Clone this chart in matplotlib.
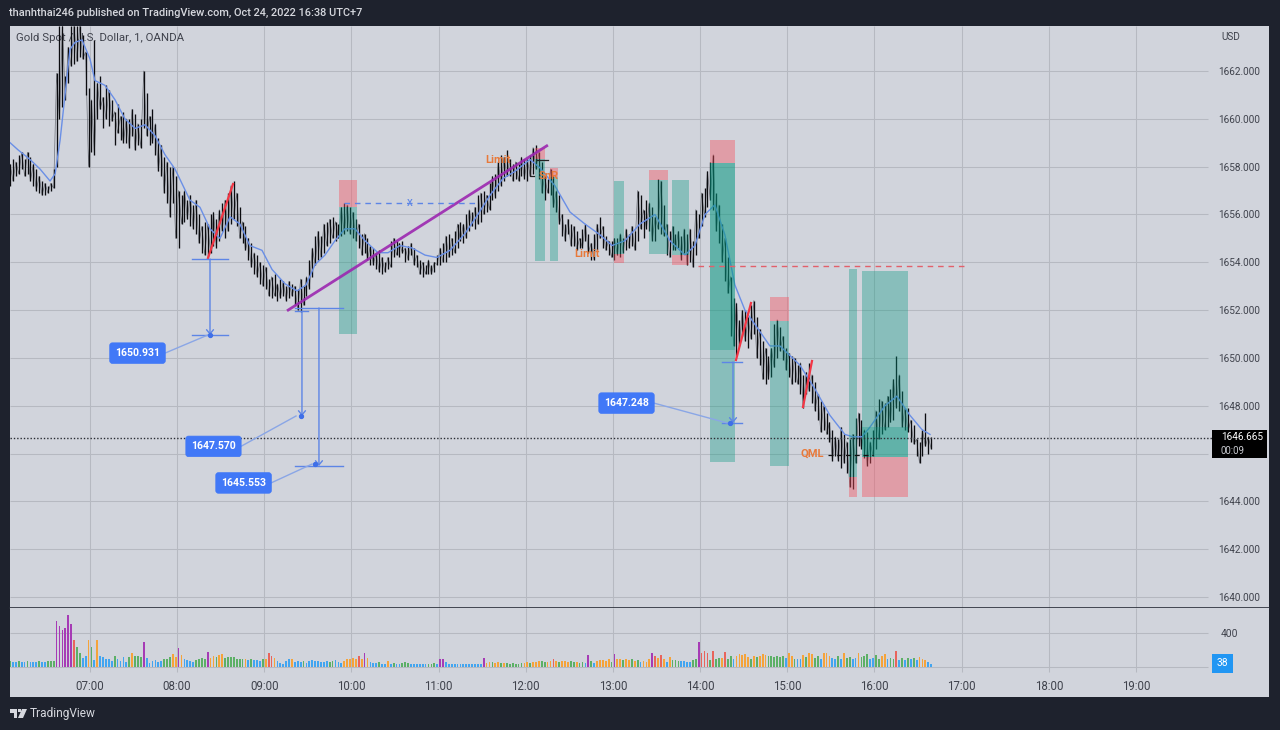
import matplotlib
matplotlib.use("Agg")
import numpy as np
import matplotlib.pyplot as plt
from matplotlib.patches import Rectangle, Polygon

plt.rcParams['font.family'] = ['Roboto', 'DejaVu Sans']

W, H = 1280, 730

# one bar every 2 minutes, first bar at 06:05. prices are 1600 + value
first_minute = 5
bar_step = 2

highs = [
    58.1, 58.3, 58.2, 58.5, 58.6, 58.3, 58.6, 58.4, 58.1, 57.9,
    57.6, 57.4, 57.3, 57.2, 57.3, 57.9, 61.9, 63.9, 63.9, 61.8,
    63.0, 63.9, 63.9, 63.9, 63.9, 63.5, 62.8, 61.3, 60.8, 63.3,
    61.5, 61.8, 60.9, 61.4, 61.2, 60.8, 60.3, 60.6, 60.1, 60.3,
    60.0, 60.0, 60.4, 60.2, 59.8, 60.0, 62.0, 61.1, 60.1, 60.4,
    59.8, 59.2, 58.9, 58.4, 58.2, 58.0, 58.0, 57.6, 57.0, 56.8,
    57.0, 56.6, 56.8, 56.4, 56.6, 56.0, 55.5, 55.7, 55.6, 56.0,
    56.1, 55.8, 56.2, 56.5, 56.6, 56.9, 57.2, 57.4, 56.9, 56.3,
    55.7, 55.5, 55.0, 54.8, 54.4, 54.3, 54.0, 53.9, 53.8, 53.3,
    53.4, 53.5, 53.1, 53.3, 53.2, 53.0, 53.2, 53.1, 53.0, 52.9,
    53.3, 53.0, 53.4, 54.1, 54.6, 55.1, 55.3, 55.1, 55.6, 55.7,
    55.8, 55.9, 55.7, 55.6, 56.3, 56.5, 56.4, 56.3, 56.1, 55.8,
    55.6, 55.2, 55.2, 55.0, 54.7, 54.6, 54.4, 54.5, 54.2, 54.0,
    54.2, 54.9, 55.0, 54.9, 54.8, 54.9, 54.6, 54.7, 54.8, 54.6,
    54.3, 54.1, 54.0, 53.9, 54.1, 53.9, 54.0, 54.3, 54.6, 54.8,
    55.1, 55.2, 55.0, 55.3, 55.6, 55.7, 55.6, 56.0, 56.2, 56.1,
    56.3, 56.8, 56.9, 57.0, 56.8, 57.3, 57.6, 57.7, 58.2, 58.5,
    58.4, 58.7, 58.3, 58.1, 58.2, 58.1, 58.4, 58.3, 58.3, 58.5,
    58.8, 58.9, 58.6, 58.2, 57.6, 57.5, 57.9, 57.6, 57.0, 56.8,
    56.0, 55.6, 55.8, 55.6, 55.5, 55.3, 55.0, 55.4, 55.6, 55.2,
    54.8, 55.2, 55.6, 55.9, 55.5, 55.1, 54.9, 54.9, 55.0, 55.0,
    55.2, 55.0, 55.4, 55.2, 55.5, 55.3, 57.0, 56.8, 56.2, 56.6,
    56.5, 56.3, 55.9, 57.5, 57.4, 56.4, 55.6, 55.3, 55.5, 55.2,
    55.3, 55.1, 55.4, 55.2, 55.4, 54.9, 56.2, 56.0, 56.9, 57.1,
    57.8, 58.2, 58.5, 56.9, 56.4, 55.6, 55.0, 54.2, 53.4, 52.5,
    52.3, 51.6, 52.0, 52.0, 51.7, 52.2, 52.4, 51.7, 51.2, 50.7,
    50.4, 50.1, 50.4, 51.4, 51.6, 51.3, 50.9, 50.4, 50.2, 50.1,
    50.0, 49.7, 49.8, 49.3, 49.4, 49.8, 49.3, 49.0, 48.5, 48.2,
    48.0, 47.7, 47.3, 47.0, 46.7, 46.6, 47.1, 46.8, 46.5, 46.6,
    46.8, 47.5, 47.7, 47.4, 47.0, 46.9, 46.5, 47.0, 47.8, 48.3,
    48.2, 48.1, 48.4, 48.7, 49.1, 50.1, 49.3, 48.6, 47.9, 47.9,
    47.4, 47.2, 46.6, 46.5, 47.0, 47.7, 46.7, 46.7,
]
lows = [
    57.2, 57.4, 57.6, 57.7, 57.9, 57.6, 57.7, 57.4, 57.2, 57.0,
    56.9, 56.8, 56.8, 56.9, 57.0, 57.1, 58.0, 60.0, 60.5, 60.8,
    61.5, 62.2, 62.3, 62.4, 62.6, 62.5, 61.0, 58.0, 58.6, 58.5,
    60.0, 60.4, 59.6, 60.0, 59.7, 59.9, 58.9, 59.4, 59.1, 59.0,
    59.0, 58.8, 59.3, 58.7, 58.9, 58.8, 59.6, 59.3, 58.9, 59.0,
    58.5, 57.8, 57.6, 56.9, 56.5, 55.9, 56.5, 55.0, 54.6, 55.6,
    55.7, 55.8, 55.5, 55.4, 55.2, 54.8, 54.4, 54.3, 54.2, 54.4,
    54.7, 54.6, 54.9, 55.3, 55.0, 55.3, 55.6, 55.8, 55.5, 55.0,
    54.8, 54.5, 54.1, 53.8, 53.5, 53.4, 53.1, 53.0, 52.9, 52.6,
    52.5, 52.6, 52.4, 52.5, 52.6, 52.4, 52.5, 52.6, 52.2, 52.0,
    51.9, 52.2, 52.6, 52.9, 53.4, 53.9, 54.1, 54.2, 54.4, 54.7,
    54.8, 55.0, 54.9, 55.0, 55.1, 55.2, 55.3, 55.2, 55.0, 54.9,
    54.6, 54.3, 54.4, 54.1, 53.9, 53.9, 53.7, 53.6, 53.5, 53.6,
    53.7, 53.8, 54.2, 54.3, 54.2, 54.4, 54.0, 54.1, 54.3, 53.9,
    53.8, 53.5, 53.4, 53.5, 53.5, 53.5, 53.6, 53.9, 53.9, 54.0,
    54.0, 54.2, 54.3, 54.4, 54.6, 54.9, 54.8, 55.0, 55.3, 55.5,
    55.4, 55.6, 55.7, 56.0, 56.1, 56.2, 56.6, 56.7, 57.0, 57.2,
    57.4, 57.6, 57.6, 57.4, 57.5, 57.4, 57.6, 57.5, 57.4, 57.6,
    57.7, 57.9, 57.5, 56.9, 56.6, 56.9, 56.8, 56.3, 56.1, 55.6,
    55.1, 54.9, 55.2, 54.7, 54.7, 54.5, 54.6, 54.6, 54.9, 54.4,
    54.1, 54.1, 54.5, 55.0, 54.6, 54.5, 54.3, 54.2, 54.1, 54.3,
    54.2, 54.4, 54.5, 54.6, 54.7, 54.5, 54.9, 55.4, 55.0, 55.4,
    55.3, 54.9, 54.9, 55.4, 55.2, 55.1, 54.3, 54.2, 54.5, 54.5,
    54.6, 54.1, 54.4, 53.9, 54.0, 53.8, 54.3, 55.0, 55.5, 55.9,
    56.3, 56.6, 56.2, 55.3, 54.8, 54.0, 53.2, 52.7, 50.9, 50.5,
    50.1, 50.5, 50.9, 50.7, 50.4, 50.8, 51.0, 50.0, 49.7, 49.1,
    48.9, 49.1, 49.2, 49.6, 50.0, 50.3, 49.9, 49.5, 49.2, 48.9,
    49.0, 48.9, 48.5, 47.9, 48.5, 48.6, 48.1, 47.8, 47.4, 46.9,
    47.0, 46.8, 46.5, 45.7, 45.9, 45.7, 45.4, 45.6, 45.2, 44.6,
    44.5, 45.6, 46.3, 46.2, 45.8, 45.5, 45.6, 45.9, 46.2, 46.6,
    46.8, 47.0, 47.1, 47.3, 47.4, 47.9, 47.8, 47.1, 47.0, 46.9,
    46.5, 46.4, 45.9, 45.6, 45.9, 46.3, 46.0, 46.2,
]
volumes = [
    70, 60, 55, 70, 60, 55, 65, 60, 55, 60,
    65, 55, 60, 70, 70, 75, 540, 480, 430, 460,
    610, 510, 320, 230, 170, 110, 130, 320, 230, 80,
    320, 130, 120, 100, 90, 70, 130, 90, 70, 120,
    60, 120, 165, 130, 130, 120, 300, 110, 50, 70,
    80, 60, 70, 100, 90, 120, 150, 120, 220, 140,
    90, 80, 70, 60, 80, 100, 110, 90, 180, 110,
    130, 120, 140, 150, 110, 120, 120, 120, 100, 90,
    90, 100, 80, 90, 80, 80, 70, 90, 100, 170,
    130, 110, 70, 50, 40, 70, 90, 100, 60, 70,
    60, 70, 50, 70, 80, 70, 70, 60, 60, 70,
    60, 70, 80, 60, 50, 70, 90, 90, 110, 100,
    130, 90, 170, 110, 60, 50, 50, 60, 40, 40,
    70, 40, 50, 40, 40, 50, 60, 50, 40, 30,
    40, 30, 30, 30, 40, 40, 50, 40, 90, 90,
    60, 30, 40, 30, 30, 40, 30, 30, 40, 30,
    40, 30, 40, 110, 50, 60, 60, 50, 60, 50,
    50, 50, 40, 50, 40, 40, 50, 50, 60, 50,
    60, 60, 70, 70, 60, 60, 70, 90, 70, 60,
    70, 70, 60, 70, 60, 60, 50, 60, 50, 140,
    70, 50, 70, 80, 80, 70, 90, 60, 150, 90,
    90, 80, 90, 80, 90, 70, 80, 60, 70, 60,
    90, 160, 130, 110, 140, 90, 60, 120, 80, 80,
    70, 70, 70, 60, 60, 80, 90, 290, 170, 190,
    170, 80, 190, 90, 110, 110, 180, 90, 130, 90,
    130, 150, 140, 150, 120, 100, 130, 120, 130, 150,
    140, 130, 130, 120, 130, 120, 130, 110, 160, 130,
    100, 90, 100, 140, 120, 160, 150, 110, 130, 100,
    170, 170, 130, 110, 100, 130, 100, 160, 110, 120,
    100, 110, 170, 120, 130, 150, 100, 110, 140, 100,
    130, 150, 100, 110, 90, 190, 80, 110, 80, 110,
    90, 110, 80, 120, 100, 80, 60, 38,
]
volume_colors = (
    "gbbgbbgbbb" "gbbgggpppp" "pprggbbogb" "obbbbbgbbb"
    "bgogggpbbb" "bbbgggoopo" "bbbbggggpo" "ogoogggggg"
    "gobgbbbgor" "robbbbbobb" "bgbbbbbbbb" "ggbbbooooo"
    "ropobbbgbb" "obgbbgggbb" "bbbbgggbpp" "bbbbbbbbbb"
    "bbbpoogoog" "oggggggoog" "oooggoorog" "oooggoggbp"
    "gbooooogpo" "ogoogogboo" "oprorobogg" "gbbbbggprr"
    "rgrggorggb" "ooooogogoo" "oggggggboo" "gbbogooggb"
    "ooobbgbogg" "bbogggbbgg" "oobggrbgbg" "bgbooobb"
)

# blue moving average, minutes after 06:00 and price
ema_minutes = [
    5, 10.5, 18.7, 25.6, 32.5, 36, 39.4, 42.8, 46.2, 49.7, 54.5, 60, 63.4, 70.3,
    77.2, 84, 91, 97.9, 104.7, 111.6, 118.5, 128.8, 135.7, 142.6, 149.5, 156.4,
    163.2, 170, 178.4, 185.3, 194.2, 202.5, 208.7, 214.9, 221.7, 228.6, 235.5,
    242.4, 249.3, 258.2, 265.1, 273.4, 281.6, 290.6, 298.8, 307.8, 318.1, 327,
    335.3, 344.2, 352.5, 362.8, 369.7, 380, 390.4, 400.7, 411, 419.3, 428.2,
    438.5, 448.9, 459.2, 469.5, 476.4, 483.3, 490.1, 497, 503.9, 510.8, 517.7,
    528, 534.9, 541.8, 548.6, 559, 569.3, 579.6, 585.1, 591.3, 596.8, 607.2,
    615.4, 624.4, 632.7, 638.2,
]
ema_prices = [
    1659.0, 1658.7, 1658.3, 1657.9, 1657.4, 1657.7, 1659.1, 1661.0, 1662.9, 1663.2,
    1663.3, 1662.5, 1661.6, 1661.4, 1660.8, 1660.0, 1659.6, 1659.75, 1659.3, 1658.5,
    1657.9, 1656.6, 1656.3, 1655.4, 1655.0, 1655.9, 1655.6, 1654.7, 1654.5, 1653.7,
    1653.1, 1652.8, 1653.05, 1653.9, 1654.3, 1654.9, 1655.4, 1655.4, 1654.9, 1654.4,
    1654.4, 1654.7, 1654.6, 1654.3, 1654.2, 1654.5, 1655.2, 1656.0, 1656.8, 1657.5,
    1657.8, 1658.3, 1657.95, 1657.2, 1656.1, 1655.6, 1655.15, 1654.7, 1654.9, 1655.6,
    1656.0, 1654.9, 1654.3, 1654.7, 1656.0, 1656.4, 1655.15, 1653.05, 1652.0, 1651.4,
    1650.5, 1650.5, 1650.1, 1649.7, 1648.7, 1647.6, 1646.8, 1646.7, 1646.7, 1647.1,
    1648.0, 1648.4, 1647.6, 1647.0, 1646.8,
]

# long/short position boxes
box_start = [231.4, 366.3, 376.6, 420.6, 444.7, 460.5, 486.7, 528, 582.4, 591.3]
box_end = [243.8, 373.2, 382.1, 427.5, 457.8, 472.3, 503.9, 541.1, 587.9, 623]
box_stop = [1657.45, 1658.8, 1657.95, 1653.95, 1657.85, 1653.9, 1659.1, 1652.55, 1644.2, 1644.2]
box_entry = [1656.3, 1658.3, 1657.55, 1654.35, 1657.45, 1654.3, 1658.15, 1651.55, 1645.0, 1645.85]
box_target = [1651.0, 1654.05, 1654.05, 1657.4, 1654.35, 1657.45, 1645.65, 1645.5, 1653.7, 1653.65]

# inner darker boxes where two positions overlap
inner_start = [486.7, 591.3]
inner_end = [503.9, 623]
inner_low = [1650.35, 1645.85]
inner_high = [1658.15, 1647.1]

# price range measures
measure_time = [142.6, 205.9, 217.6, 502.6]
measure_from = [1654.14, 1651.96, 1652.09, 1649.83]
measure_to = [1650.96, 1647.57, 1645.48, 1647.28]
measure_left = [130.2, 201.1, 201.1, 495]
measure_right = [155, 210, 234.1, 508.8]
dot_time = [142.6, 205.2, 214.9, 500.5]
dot_price = [1650.96, 1647.57, 1645.56, 1647.28]
label_text = ["1650.931", "1647.570", "1645.553", "1647.248"]
label_time = [92.7, 145, 165.7, 429.3]
label_price = [1650.2, 1646.3, 1644.77, 1648.11]
leader_from = [111.6, 163.9, 184.6, 448.2]
leader_to = [141.2, 201.8, 212.8, 498.5]

price_ticks = [1640, 1642, 1644, 1646, 1648, 1650, 1652, 1654, 1656, 1658, 1660, 1662]
hour_ticks = [60 * h for h in range(1, 14)]
hour_labels = [f"{h:02d}:00" for h in range(7, 20)]

BG = '#d1d4dc'
FRAME = '#1e222d'
GRID = '#b6b9c1'
TEXT = '#3f424c'
BLUE = '#6a8fe6'
LINE_BLUE = '#5d85e6'
GREEN = '#089981'
RED = '#f7525f'
ORANGE = '#e8793a'
VOL_COLORS = {'b': '#42a5f0', 'g': '#5cb066', 'o': '#f5a33a', 'r': '#e8645c', 'p': '#a63bb5'}

px_per_min = 1046 / 720
px_per_usd = 526 / 22


def minute_at(px):
    return 60 + (px - 90) / px_per_min


def price_at(py):
    return 1640 + (597 - py) / px_per_usd


fig = plt.figure(figsize=(W / 100, H / 100), dpi=100, facecolor=FRAME)
ax = fig.add_axes([10 / W, 1 - 608 / H, 1259 / W, 582 / H], facecolor=BG)
vol = fig.add_axes([10 / W, 1 - 697 / H, 1259 / W, 89 / H], facecolor=BG)

xlim = (minute_at(10), minute_at(1269))
ax.set_xlim(xlim)
ax.set_ylim(price_at(608), price_at(26))
vol.set_xlim(xlim)
vol.set_ylim(-(30 / 34) * 400, (59 / 34) * 400)

for a in (ax, vol):
    for s in a.spines.values():
        s.set_visible(False)

# grid stops where the price scale starts
grid_end = minute_at(1208)
ax.hlines(price_ticks, xlim[0], grid_end, color=GRID, lw=0.75, zorder=1)
ax.vlines(hour_ticks, price_at(608), price_at(26), color=GRID, lw=0.75, zorder=1)
vol.hlines([0, 400], xlim[0], grid_end, color=GRID, lw=0.75, zorder=1)
vol.vlines(hour_ticks, -59, (59 / 34) * 400, color=GRID, lw=0.75, zorder=1)
ax.spines['bottom'].set_visible(True)
ax.spines['bottom'].set_color('#2a2e39')
ax.spines['bottom'].set_linewidth(1.2)

# candles
bar_minutes = first_minute + bar_step * np.arange(len(highs))
hi = 1600 + np.array(highs)
lo = 1600 + np.array(lows)
zig = np.where(np.arange(len(hi)) % 2 == 0, hi, lo)
ax.plot(bar_minutes, zig, color='#6d7078', lw=0.5, zorder=2)
ax.vlines(bar_minutes, lo, hi, color='#0b0c10', lw=0.95, zorder=3)

ax.plot(ema_minutes, ema_prices, color=BLUE, lw=1.0, zorder=4)

# position boxes go over the candles
for i in range(len(box_start)):
    wide = box_end[i] - box_start[i]
    ax.add_patch(Rectangle((box_start[i], min(box_stop[i], box_entry[i])), wide,
                           abs(box_stop[i] - box_entry[i]), fc=RED, alpha=0.42, lw=0, zorder=5))
    ax.add_patch(Rectangle((box_start[i], min(box_entry[i], box_target[i])), wide,
                           abs(box_target[i] - box_entry[i]), fc=GREEN, alpha=0.36, lw=0, zorder=5))
for i in range(len(inner_start)):
    ax.add_patch(Rectangle((inner_start[i], inner_low[i]), inner_end[i] - inner_start[i],
                           inner_high[i] - inner_low[i], fc=GREEN, alpha=0.3, lw=0, zorder=5))

# trend lines
ax.plot([195.6, 375.2], [1651.97, 1658.9], color='#9c27b0', lw=2.0, zorder=6, solid_capstyle='butt', alpha=0.9)
ax.plot([minute_at(208), minute_at(233)], [price_at(258), price_at(184)], color='#f23645', lw=1.6, zorder=6)
ax.plot([minute_at(736), minute_at(751)], [price_at(360), price_at(303)], color='#f23645', lw=1.6, zorder=6)
ax.plot([minute_at(803), minute_at(812)], [price_at(407), price_at(361)], color='#f23645', lw=1.6, zorder=6)

# dashed levels
ax.plot([minute_at(344), minute_at(478)], [1656.5, 1656.5], color=LINE_BLUE, lw=1, ls=(0, (4, 3.5)), zorder=6)
ax.text(minute_at(410), 1656.5, "x", color=LINE_BLUE, fontsize=8.5, ha='center', va='center', zorder=7)
ax.plot([minute_at(698), minute_at(968)], [1653.85, 1653.85], color='#e2606b', lw=1, ls=(0, (4, 3.5)), zorder=6)
ax.plot([minute_at(828), minute_at(873)], [1645.95, 1645.95], color='#111111', lw=0.9, ls=(0, (4, 3)), zorder=6)
ax.plot([minute_at(537), minute_at(548)], [price_at(160), price_at(160)], color='#222222', lw=0.9, zorder=6)
ax.plot([minute_at(530), minute_at(530), minute_at(534)], [price_at(165), price_at(176), price_at(176)],
        color='#222222', lw=0.9, zorder=6)
ax.hlines(1646.665, xlim[0], minute_at(1212), color='#2a2c33', lw=1, ls=(0, (1, 1.4)), zorder=6)

# measures
for i in range(len(measure_time)):
    ax.annotate("", xy=(measure_time[i], measure_to[i]), xytext=(measure_time[i], measure_from[i]),
                arrowprops=dict(arrowstyle="->,head_length=0.3,head_width=0.25", color=LINE_BLUE, lw=1,
                                shrinkA=0, shrinkB=0), zorder=7)
    ax.plot([measure_left[i], measure_right[i]], [measure_from[i]] * 2, color=LINE_BLUE, lw=1, zorder=7)
    if i != 1:
        ax.plot([measure_left[i], measure_right[i]], [measure_to[i]] * 2, color=LINE_BLUE, lw=1, zorder=7)
    ax.plot(dot_time[i], dot_price[i], 'o', color='#3f6fe8', ms=2.8, zorder=8)
    ax.plot([leader_from[i], leader_to[i]], [label_price[i], dot_price[i]], color='#8aa6e6', lw=1, zorder=7)
    ax.text(label_time[i], label_price[i], label_text[i], color='white', fontsize=7.6, fontweight='bold',
            ha='center', va='center', zorder=9,
            bbox=dict(boxstyle='round,pad=0.5,rounding_size=0.25', fc='#4178f7', ec='#4178f7', lw=0.5))

# orange notes
ax.text(minute_at(498), price_at(160), "Limit", color=ORANGE, fontsize=8, fontweight='bold', ha='center', va='center', zorder=9)
ax.text(minute_at(549), price_at(176), "SnR", color=ORANGE, fontsize=8, fontweight='bold', ha='center', va='center', zorder=9)
ax.text(minute_at(587), price_at(254), "Limit", color=ORANGE, fontsize=8, fontweight='bold', ha='center', va='center', zorder=9)
ax.text(minute_at(812), price_at(454), "QML", color=ORANGE, fontsize=8, fontweight='bold', ha='center', va='center', zorder=9)

# price scale, the 1646 label sits behind the last price tag in the reference
ax.set_xticks([])
ax.yaxis.tick_right()
ax.set_yticks(price_ticks)
ax.set_yticklabels(["" if v == 1646 else f"{v:.3f}" for v in price_ticks], color=TEXT, fontsize=7.2, ha='right')
ax.tick_params(axis='y', length=0, pad=-6.0)
ax.text(minute_at(1221), price_at(37), "USD", color=TEXT, fontsize=7.2, ha='left', va='center')

ax.add_patch(Rectangle((minute_at(1212), price_at(458)), 55 / px_per_min, 28 / px_per_usd,
                       fc='#000000', lw=0, zorder=10, clip_on=False))
ax.text(minute_at(1221), price_at(437), "1646.665", color='white', fontsize=7.2, ha='left', va='center', zorder=11)
ax.text(minute_at(1221), price_at(451), "00:09", color='#c8cad0', fontsize=7.0, ha='left', va='center', zorder=11)

ax.text(minute_at(16), price_at(38), "Gold Spot / U.S. Dollar, 1, OANDA", color=TEXT, fontsize=8.2,
        ha='left', va='center', zorder=2.5)

# volume pane
vol.bar(bar_minutes, volumes, width=1.2, color=[VOL_COLORS[c] for c in volume_colors], lw=0, zorder=3)
vol.set_xticks(hour_ticks)
vol.set_xticklabels(hour_labels, color=TEXT, fontsize=8.3)
vol.tick_params(axis='x', length=0, pad=-12.5)
vol.yaxis.tick_right()
vol.set_yticks([400])
vol.set_yticklabels(["400"], color=TEXT, fontsize=7.4, ha='right')
vol.tick_params(axis='y', length=0, pad=-22)
vol.add_patch(Rectangle((minute_at(1212), -(6 / 34) * 400), 21 / px_per_min, (19 / 34) * 400,
                        fc='#2196f3', lw=0, zorder=5))
vol.text(minute_at(1222.5), (3.5 / 34) * 400, "38", color='white', fontsize=7.4, ha='center', va='center', zorder=6)

# header and footer
fig.text(9 / W, 1 - 13 / H, "thanhthai246 published on TradingView.com, Oct 24, 2022 16:38 UTC+7",
         color='#d6d8de', fontsize=7.95, fontweight='medium', ha='left', va='center')
fig.text(30 / W, 1 - 714 / H, "TradingView", color='#d6d8de', fontsize=8.6, ha='left', va='center')


def logo_xy(points):
    return [(x / W, 1 - y / H) for x, y in points]


fig.add_artist(Polygon(logo_xy([(10, 709), (17, 709), (17, 718), (13.5, 718), (13.5, 712.5), (10, 712.5)]),
                       closed=True, fc='#d6d8de', lw=0, transform=fig.transFigure))
fig.add_artist(Polygon(logo_xy([(22, 709), (27, 709), (23, 718), (18, 718)]),
                       closed=True, fc='#d6d8de', lw=0, transform=fig.transFigure))
fig.add_artist(Polygon(logo_xy([(18, 709), (20.5, 709), (20.5, 711.5), (18, 711.5)]),
                       closed=True, fc='#d6d8de', lw=0, transform=fig.transFigure))

fig.savefig("out.png", dpi=100, facecolor=FRAME)
